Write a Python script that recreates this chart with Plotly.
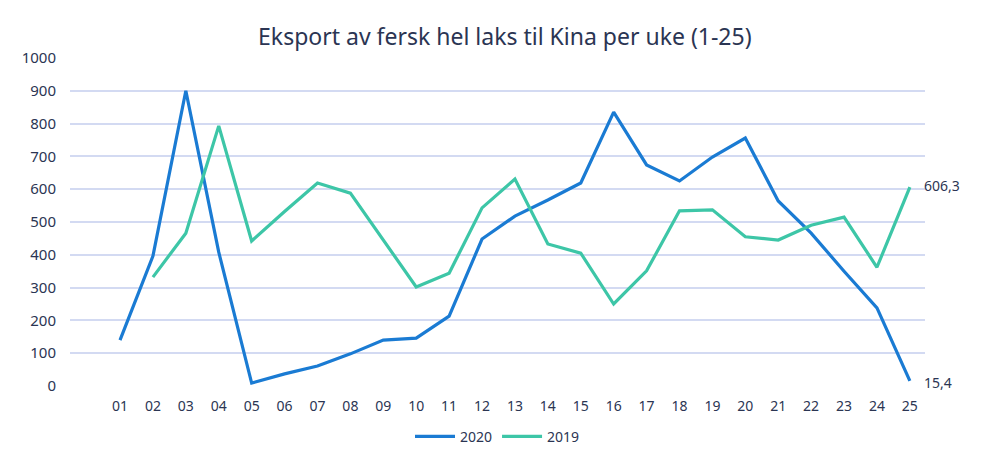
import plotly.graph_objects as go

weeks = [f"{i:02d}" for i in range(1, 26)]
v2020 = [140, 396, 900, 408, 9, 37, 61, 98, 140, 146, 213, 448, 518, 567, 619, 835,
         674, 625, 698, 756, 564, 466, 350, 238, 15.4]
v2019 = [None, 332, 466, 793, 442, 532, 619, 588, 445, 302, 344, 543, 631, 433, 405, 250,
         351, 534, 537, 455, 445, 490, 515, 362, 606.3]
end_labels = ["606,3", "15,4"]

c2020 = "#1a7bd3"
c2019 = "#3dc6a7"
txt = "#2b3553"
font = "Noto Sans"

fig = go.Figure()
fig.add_trace(go.Scatter(x=weeks, y=v2020, mode="lines", name="2020",
                         line=dict(color=c2020, width=3.2)))
fig.add_trace(go.Scatter(x=weeks, y=v2019, mode="lines", name="2019",
                         line=dict(color=c2019, width=3.2)))

last = len(weeks) - 1
fig.add_annotation(x=last, y=v2019[-1], text=end_labels[0], xref="x", yref="y",
                   showarrow=False, xanchor="left", xshift=12, yshift=2,
                   font=dict(size=14, color=txt, family=font))
fig.add_annotation(x=last, y=v2020[-1], text=end_labels[1], xref="x", yref="y",
                   showarrow=False, xanchor="left", xshift=12, yshift=-2,
                   font=dict(size=14, color=txt, family=font))

fig.update_layout(
    width=986, height=463,
    margin=dict(l=70, r=61, t=58, b=77, autoexpand=False),
    paper_bgcolor="white", plot_bgcolor="white",
    title=dict(text="Eksport av fersk hel laks til Kina per uke (1-25)",
               x=0.512, xanchor="center", y=0.92, yanchor="middle",
               font=dict(size=23, color=txt, family=font)),
    font=dict(family=font, color=txt, size=14),
    showlegend=True,
    legend=dict(orientation="h", x=0.5, xanchor="center", y=-0.155, yanchor="middle",
                font=dict(size=14, color=txt, family=font), itemwidth=40,
                bgcolor="rgba(0,0,0,0)"),
    xaxis=dict(type="category", range=[-1.52, 24.46], showgrid=False, automargin=False,
               showline=False, zeroline=False, ticks="", ticklabelstandoff=10,
               tickfont=dict(size=14, color=txt, family=font)),
    yaxis=dict(range=[0, 1000], tick0=0, dtick=100, showgrid=True, automargin=False,
               gridcolor="#d3daf2", gridwidth=1.5, zeroline=False, showline=False,
               ticks="", ticklabelstandoff=13,
               tickfont=dict(size=15, color=txt, family=font)),
)

fig.write_html("out.html")
